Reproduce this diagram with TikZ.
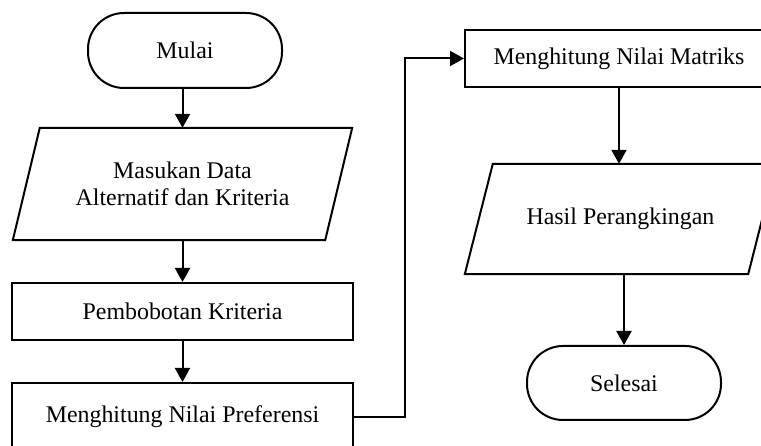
\documentclass[tikz,border=0pt]{standalone}
\usepackage{fontspec}
\setmainfont{Liberation Serif}
\usetikzlibrary{arrows.meta,calc}
\begin{document}
\begin{tikzpicture}[x=1pt,y=1pt,
  every node/.style={inner sep=0pt, font=\fontsize{23.9}{27.5}\selectfont},
  lw/.style={line width=2pt},
  term/.style={lw, draw, rounded corners=36pt},
  procbox/.style={lw, draw},
  iobox/.style={align=center},
  arr/.style={lw, -{Triangle[length=14pt,width=15pt]}},
  conn/.style={lw, line join=miter}
]
\useasboundingbox (0,0) rectangle (761,-446);
\clip (0,0) rectangle (761,-446);
% nodes
\node[term, minimum width=194pt, minimum height=75pt] (mulai) at (185,-50.5) {Mulai};
\node[iobox, minimum width=312pt, minimum height=112pt] (in) at (182.5,-184) {Masukan Data\\Alternatif dan Kriteria};
\draw[lw, line join=miter] ([xshift=13.5pt]in.north west) -- ([xshift=13.5pt]in.north east) -- ([xshift=-13.5pt]in.south east) -- ([xshift=-13.5pt]in.south west) -- cycle;
\node[procbox, minimum width=341pt, minimum height=57pt] (bobot) at (182.5,-311.5) {Pembobotan Kriteria};
\node[procbox, minimum width=341pt, minimum height=68pt] (pref) at (182.5,-417) {Menghitung Nilai Preferensi};
\node[procbox, minimum width=308pt, minimum height=57pt] (mat) at (619,-58.5) {Menghitung Nilai Matriks};
\node[iobox, minimum width=283pt, minimum height=110pt] (hasil) at (620.5,-219) {Hasil Perangkingan};
\draw[lw, line join=miter] ([xshift=14pt]hasil.north west) -- ([xshift=14pt]hasil.north east) -- ([xshift=-14pt]hasil.south east) -- ([xshift=-14pt]hasil.south west) -- cycle;
\node[term, minimum width=194pt, minimum height=74pt] (sel) at (624,-383) {Selesai};
\coordinate (bend) at ([xshift=-59pt]mat.west);
% connectors
\draw[arr] (in.north |- mulai.south) -- (in.north);
\draw[arr] (in.south) -- (bobot.north);
\draw[arr] (bobot.south) -- (pref.north);
\draw[arr, line join=miter] (pref.east) -| (bend) -- (mat.west);
\draw[arr] (mat.south) -- (mat.south |- hasil.north);
\draw[arr] (sel.north |- hasil.south) -- (sel.north);
\end{tikzpicture}
\end{document}
